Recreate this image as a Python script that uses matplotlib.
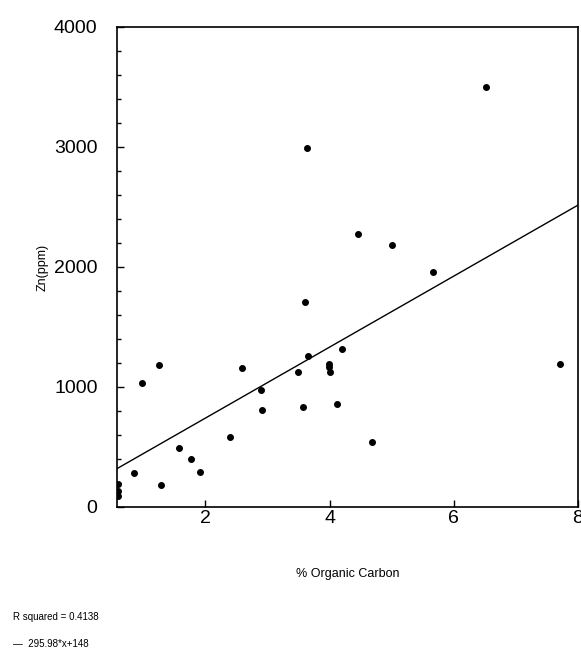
import matplotlib
matplotlib.use("Agg")
import matplotlib.pyplot as plt
from matplotlib.ticker import MultipleLocator

plt.rcParams['font.family'] = ['Liberation Sans', 'DejaVu Sans']

# % organic carbon vs Zn (ppm)
org_carbon = [6.52, 3.63, 4.46, 5.00, 5.66, 3.60, 7.71, 1.25, 0.98, 2.59,
              3.66, 3.50, 3.99, 3.99, 4.01, 4.20, 2.89, 2.91, 3.58, 4.12,
              2.40, 4.69, 1.58, 1.77, 1.91, 0.85, 1.29, 0.60, 0.60, 0.60]
zn_ppm = [3500, 2990, 2275, 2185, 1960, 1710, 1195, 1180, 1030, 1160,
          1255, 1125, 1195, 1165, 1125, 1315, 975, 810, 830, 860,
          585, 540, 495, 400, 290, 285, 180, 190, 130, 90]

slope = 295.98
intercept = 148
r_squared = 0.4138

x_min, x_max = 0.58, 8.0
x_ticks = [2, 4, 6, 8]
y_ticks = [0, 1000, 2000, 3000, 4000]

fig = plt.figure(figsize=(5.81, 6.58), dpi=100)
ax = fig.add_axes([0.2014, 0.2295, 0.7935, 0.7295])

ax.scatter(org_carbon, zn_ppm, s=16, marker='o', color='black', zorder=3)
ax.plot([x_min, x_max], [slope * x_min + intercept, slope * x_max + intercept],
        color='black', lw=1.0)

ax.set_xlim(x_min, x_max)
ax.set_ylim(0, 4000)
ax.set_xticks(x_ticks)
ax.set_yticks(y_ticks)
ax.yaxis.set_minor_locator(MultipleLocator(200))
ax.tick_params(direction='in', length=5, width=1, labelsize=14, colors='black')
ax.tick_params(axis='y', which='minor', direction='in', length=3, width=1)
ax.tick_params(axis='y', pad=14)
ax.tick_params(axis='x', pad=2)

for s in ax.spines.values():
    s.set_linewidth(1.2)
    s.set_color('black')

ax.set_ylabel('Zn(ppm)', fontsize=9, labelpad=4)
ax.set_xlabel('% Organic Carbon', fontsize=9, labelpad=30)

fig.text(0.022, 0.062, 'R squared = %.4f' % r_squared, fontsize=7, ha='left', va='center')
fig.text(0.022, 0.021, '\u2014  %.2f*x+%d' % (slope, intercept), fontsize=7, ha='left', va='center')

fig.savefig('out.png', dpi=100)
